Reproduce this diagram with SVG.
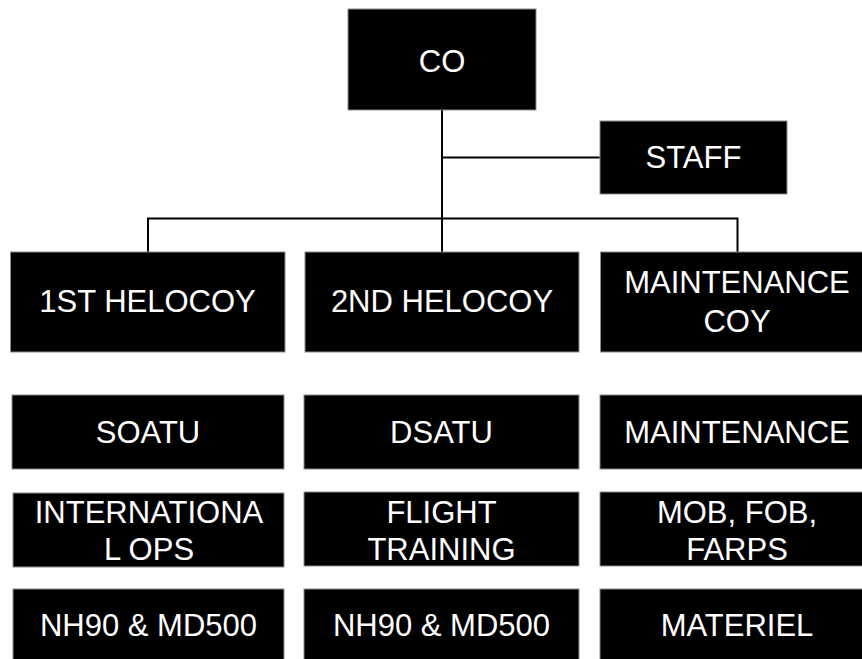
<svg xmlns="http://www.w3.org/2000/svg" width="862" height="659" viewBox="0 0 862 659">
<style>
.box{fill:#000;stroke:#8c8c8c;stroke-width:1}
.t{font-family:"Liberation Sans",Arial,sans-serif;font-size:31px;fill:#fff;text-anchor:middle}
.ln{stroke:#000;stroke-width:2;fill:none}
</style>
<rect width="862" height="659" fill="#fff"/>
<g id="connectors">
<line class="ln" x1="442" y1="110" x2="442" y2="252"/>
<line class="ln" x1="442" y1="157.5" x2="600" y2="157.5"/>
<polyline class="ln" points="148,252 148,218.5 737.5,218.5 737.5,252"/>
</g>
<g id="co"><rect class="box" x="348" y="9" width="188" height="101"/><text class="t" x="442" y="72">CO</text></g>
<g id="staff"><rect class="box" x="600" y="121" width="187" height="73"/><text class="t" x="693.5" y="168">STAFF</text></g>
<g id="helocoy1"><rect class="box" x="10.5" y="252" width="274.5" height="100"/><text class="t" x="147.5" y="312">1ST HELOCOY</text></g>
<g id="helocoy2"><rect class="box" x="305" y="252" width="274" height="100"/><text class="t" x="442" y="312">2ND HELOCOY</text></g>
<g id="maintcoy"><rect class="box" x="600.5" y="252" width="274" height="100"/><text class="t" x="737" y="293">MAINTENANCE</text><text class="t" x="737" y="332">COY</text></g>
<g id="soatu"><rect class="box" x="12" y="395" width="272" height="74"/><text class="t" x="148" y="443">SOATU</text></g>
<g id="dsatu"><rect class="box" x="304" y="395" width="275" height="74"/><text class="t" x="441.5" y="443">DSATU</text></g>
<g id="maintenance"><rect class="box" x="600" y="395" width="274" height="74"/><text class="t" x="737" y="443">MAINTENANCE</text></g>
<g id="intlops"><rect class="box" x="13" y="493" width="271" height="74"/><text class="t" x="149" y="523">INTERNATIONA</text><text class="t" x="149" y="560">L OPS</text></g>
<g id="flighttraining"><rect class="box" x="304" y="492" width="275" height="74"/><text class="t" x="441.5" y="522.5">FLIGHT</text><text class="t" x="441.5" y="560">TRAINING</text></g>
<g id="mobfob"><rect class="box" x="600" y="492" width="274" height="74"/><text class="t" x="737" y="522.5">MOB, FOB,</text><text class="t" x="737" y="560">FARPS</text></g>
<g id="nh90a"><rect class="box" x="13" y="589" width="271" height="80"/><text class="t" x="148.5" y="636">NH90 &amp; MD500</text></g>
<g id="nh90b"><rect class="box" x="304" y="589" width="275" height="80"/><text class="t" x="441.5" y="636">NH90 &amp; MD500</text></g>
<g id="materiel"><rect class="box" x="600" y="589" width="274" height="80"/><text class="t" x="737" y="636">MATERIEL</text></g>
</svg>
